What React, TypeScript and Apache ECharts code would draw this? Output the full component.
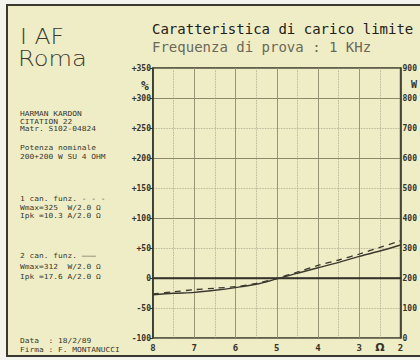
import React, { useEffect, useRef } from "react";
import * as echarts from "echarts";

// Load impedance (ohm), reversed axis 8 -> 2
const ohms = [8, 7.5, 7, 6.5, 6, 5.5, 5, 4.5, 4, 3.5, 3, 2.5, 2];
// 2 can. funz. (solid) — % deviation
const ch2Solid = [-28, -25.5, -24, -20.5, -16, -10.5, -1.5, 8, 17, 26, 36, 45, 55];
// 1 can. funz. (dashed) — % deviation
const ch1Dashed = [-26.5, -23, -19.5, -17, -14.5, -9, -0.5, 10, 21, 30, 40, 51, 62];

const leftRange = { min: -100, max: 350, step: 50 };
const rightRange = { min: 0, max: 900, step: 100 };
const xRange = { min: 2, max: 8 };

const infoLines: [string, number][] = [
  ["HARMAN KARDON", 113.8],
  ["CITATION 22", 121.2],
  ["Matr. S102-04824", 128.8],
  ["Potenza nominale", 147.5],
  ["200+200 W SU 4 OHM", 157],
  ["1 can. funz. - - -", 198.5],
  ["Wmax=325  W/2.0 Ω", 207.5],
  ["Ipk =10.3 A/2.0 Ω", 216],
  ["2 can. funz. ———", 256],
  ["Wmax=312  W/2.0 Ω", 267],
  ["Ipk =17.6 A/2.0 Ω", 276.5],
  ["Data  : 18/2/89", 341],
  ["Firma : F. MONTANUCCI", 350],
];

export default function App() {
  const ref = useRef<HTMLDivElement>(null);
  useEffect(() => {
    const chart = echarts.init(ref.current!, null, { renderer: "svg" });
    const mono = "DejaVu Sans Mono";
    const ink = "#35332a";
    const major = "#7a775c";
    const minor = "#a3a084";

    const toPairs = (ys: number[]) => ohms.map((x, i) => [x, ys[i]]);

    const texts: any[] = [
      { type: "text", x: 20, y: 36.5, scaleX: 1.12, style: { text: "I AF", x: 0, y: 0, fontFamily: "DejaVu Sans", fontSize: 21, lineHeight: 21, fontWeight: 300, fill: "#3c3a32", verticalAlign: "middle" } },
      { type: "text", x: 18, y: 58.5, scaleX: 1.15, style: { text: "Roma", x: 0, y: 0, fontFamily: "DejaVu Sans", fontSize: 21, lineHeight: 21, fontWeight: 300, fill: "#3c3a32", verticalAlign: "middle" } },
      { type: "text", style: { text: "Caratteristica di carico limite", x: 152, y: 29, fontFamily: mono, fontSize: 14, fill: "#222018", verticalAlign: "middle" } },
      { type: "text", style: { text: "Frequenza di prova : 1 KHz", x: 152, y: 47, fontFamily: mono, fontSize: 14, fill: "#6a685a", verticalAlign: "middle" } },
      { type: "text", style: { text: "%", x: 145, y: 85, fontFamily: mono, fontSize: 13, fontWeight: "bold", fill: ink, align: "center", verticalAlign: "middle" } },
      { type: "text", style: { text: "W", x: 411, y: 84, fontFamily: mono, fontSize: 10, fontWeight: "bold", fill: ink, verticalAlign: "middle" } },
      ...infoLines.map(([t, y]) => ({
        type: "text",
        x: 20,
        y,
        scaleX: 1.13,
        style: { text: t, x: 0, y: 0, fontFamily: mono, fontSize: 7, lineHeight: 7, fill: "#3a382e", verticalAlign: "middle" },
      })),
    ];

    chart.setOption({
      animation: false,
      backgroundColor: "transparent",
      grid: { left: 153, right: 12.5, top: 68, bottom: 22, show: true, borderColor: ink, borderWidth: 1.5, backgroundColor: "transparent" },
      graphic: texts,
      xAxis: [
        {
          type: "value", min: xRange.min, max: xRange.max, interval: 1, inverse: true, position: "bottom",
          axisLine: { show: true, lineStyle: { color: ink, width: 1.5 } },
          axisTick: { show: false },
          axisLabel: { fontFamily: mono, fontWeight: "bold", fontSize: 9, color: ink, margin: 5, showMinLabel: true, showMaxLabel: true },
          splitLine: { show: true, lineStyle: { color: major, width: 0.8 } },
        },
        {
          type: "value", min: xRange.min, max: xRange.max, interval: 0.5, inverse: true, position: "bottom",
          axisLine: { show: false },
          axisTick: { show: false },
          axisLabel: { formatter: (v: number) => (v === 2.5 ? "Ω" : ""), fontFamily: "DejaVu Sans", fontWeight: "bold", fontSize: 11, color: ink, margin: 4 },
          splitLine: { show: true, lineStyle: { color: minor, width: 0.8, type: "dotted" } },
        },
      ],
      yAxis: [
        {
          type: "value", min: leftRange.min, max: leftRange.max, interval: leftRange.step, position: "left",
          axisLine: { show: true, lineStyle: { color: ink, width: 1.5 } },
          axisTick: { show: true, length: 3, lineStyle: { color: ink } },
          axisLabel: { formatter: (v: number) => (v > 0 ? "+" + v : String(v)), fontFamily: mono, fontWeight: "bold", fontSize: 8, color: ink, margin: 2, showMinLabel: true, showMaxLabel: true },
          splitLine: { show: true, lineStyle: { color: minor, width: 0.8, type: "dotted" } },
        },
        {
          type: "value", min: rightRange.min, max: rightRange.max, interval: rightRange.step, position: "right",
          axisLine: { show: true, lineStyle: { color: ink, width: 1.5 } },
          axisTick: { show: false },
          axisLabel: { fontFamily: mono, fontWeight: "bold", fontSize: 8, color: ink, margin: 2, showMinLabel: true, showMaxLabel: true },
          splitLine: { show: false },
        },
        {
          type: "value", min: leftRange.min, max: leftRange.max, interval: 100, position: "left",
          axisLine: { show: false }, axisTick: { show: false }, axisLabel: { show: false },
          splitLine: { show: true, lineStyle: { color: major, width: 0.8 } },
        },
      ],
      series: [
        {
          name: "2 can.", type: "line", xAxisIndex: 0, yAxisIndex: 0, smooth: 0.3, symbol: "none",
          data: toPairs(ch2Solid),
          lineStyle: { color: "#3b392e", width: 1.4 },
          markLine: {
            silent: true, symbol: "none", label: { show: false },
            lineStyle: { color: ink, width: 1.3, type: "solid" },
            data: [{ yAxis: 0 }],
          },
        },
        {
          name: "1 can.", type: "line", xAxisIndex: 0, yAxisIndex: 0, smooth: 0.3, symbol: "none",
          data: toPairs(ch1Dashed),
          lineStyle: { color: "#3b392e", width: 1.3, type: [6, 5] },
        },
      ],
    });
    return () => chart.dispose();
  }, []);

  return (
    <div style={{ position: "absolute", left: 0, top: 0, width: 420, height: 360, background: "#f4f4ee", overflow: "hidden" }}>
      <div style={{ position: "absolute", left: 6, top: 4, width: 420, height: 349, background: "#efedc6", borderLeft: "2px solid #3a3830", borderTop: "2px solid #3a3830", borderBottom: "2px solid #3a3830" }} />
      <div ref={ref} style={{ position: "absolute", left: 0, top: 0, width: 420, height: 360 }} />
    </div>
  );
}
